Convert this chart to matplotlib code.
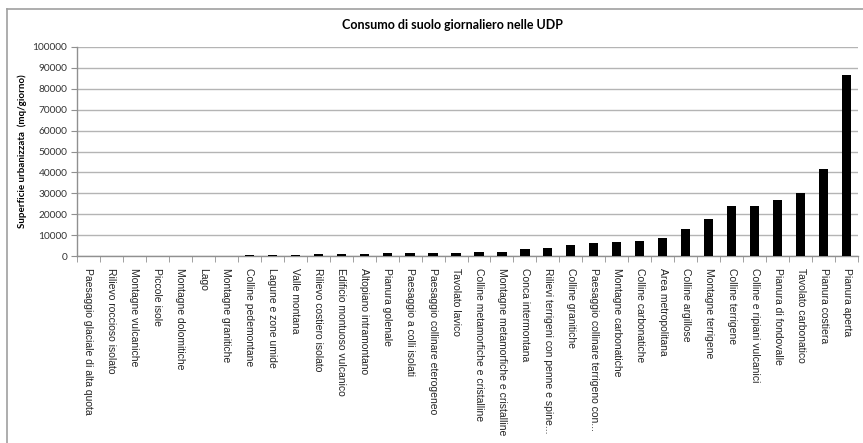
import numpy as np
import matplotlib
matplotlib.use("Agg")
import matplotlib.pyplot as plt
from matplotlib.lines import Line2D

# Unità di paesaggio (UDP), ordinate per consumo crescente
categorie = [
    "Paesaggio glaciale di alta quota",
    "Rilievo roccioso isolato",
    "Montagne vulcaniche",
    "Piccole isole",
    "Montagne dolomitiche",
    "Lago",
    "Montagne granitiche",
    "Colline pedemontane",
    "Lagune e zone umide",
    "Valle montana",
    "Rilievo costiero isolato",
    "Edificio montuoso vulcanico",
    "Altopiano intramontano",
    "Pianura golenale",
    "Paesaggio a colli isolati",
    "Paesaggio collinare eterogeneo",
    "Tavolato lavico",
    "Colline metamorfiche e cristalline",
    "Montagne metamorfiche e cristalline",
    "Conca intermontana",
    "Rilievi terrigeni con penne e spine...",
    "Colline granitiche",
    "Paesaggio collinare terrigeno con...",
    "Montagne carbonatiche",
    "Colline carbonatiche",
    "Area metropolitana",
    "Colline argillose",
    "Montagne terrigene",
    "Colline terrigene",
    "Colline e ripiani vulcanici",
    "Pianura di fondovalle",
    "Tavolato carbonatico",
    "Pianura costiera",
    "Pianura aperta",
]

# mq/giorno
consumo = [
    0, 10, 20, 30, 50, 70, 100,
    300, 350, 450, 800, 850, 900,
    1300, 1350, 1600, 1650, 2100, 2150,
    3200, 3700, 5300, 6400, 6900, 7200,
    8800, 12900, 17700, 23800, 24100, 27000,
    30100, 41800, 86800,
]

yticks = np.arange(0, 100001, 10000)

W, H = 863, 443
fig = plt.figure(figsize=(W / 100, H / 100), dpi=100)
ax = fig.add_axes([77 / W, 1 - 256 / H, (858 - 77) / W, (256 - 47) / H])

x = np.arange(len(categorie))
ax.bar(x, consumo, width=0.4, color="black", zorder=3)

ax.set_xlim(-0.5, len(categorie) - 0.5)
ax.set_ylim(0, 100000)
ax.set_yticks(yticks)
ax.set_yticklabels([str(v) for v in yticks], fontsize=7.3, family="Lato", color="#333333")
ax.yaxis.grid(True, color="#b4b4b4", linewidth=1.0, zorder=0)

# etichette sotto le barre, tacche fra una categoria e l'altra
ax.set_xticks(x)
ax.set_xticklabels(categorie, rotation=-90, fontsize=7.5, family="Liberation Sans",
                   color="#222222", va="top", ha="center")
ax.set_xticks(np.arange(-0.5, len(categorie)), minor=True)
ax.tick_params(axis="x", which="major", length=0, pad=9)
ax.tick_params(axis="x", which="minor", length=4, color="#909090", direction="out")
ax.tick_params(axis="y", length=4, color="#909090", pad=3)

for s in ["top", "right"]:
    ax.spines[s].set_visible(False)
for s in ["left", "bottom"]:
    ax.spines[s].set_color("#909090")
    ax.spines[s].set_linewidth(1.0)

ax.set_ylabel("Superficie urbanizzata  (mq/giorno)", fontsize=7, family="Lato",
              fontweight="bold", labelpad=6)
ax.yaxis.set_label_coords(-50 / (858 - 77), 0.5)

fig.text(452 / W, 1 - 25 / H, "Consumo di suolo giornaliero nelle UDP",
         ha="center", va="center", fontsize=9, family="Lato", fontweight="bold")

# cornice del grafico
fig.add_artist(Line2D([7 / W, 7 / W], [0, 1 - 9 / H], color="#a0a0a0", lw=1.2))
fig.add_artist(Line2D([7 / W, 1], [1 - 9 / H, 1 - 9 / H], color="#a0a0a0", lw=1.2))

fig.savefig("out.png", dpi=100)
